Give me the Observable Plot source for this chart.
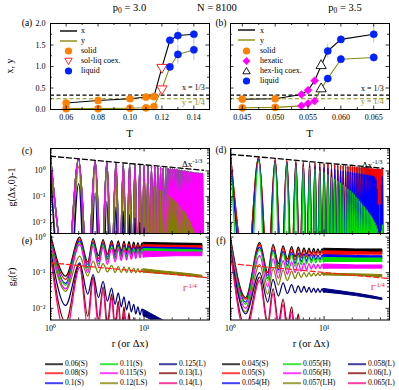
<!DOCTYPE html>
<html><head><meta charset="utf-8">
<script src="https://cdn.jsdelivr.net/npm/d3@7"></script>
<script src="https://cdn.jsdelivr.net/npm/@observablehq/plot@0.6"></script>
<style>
html,body{margin:0;padding:0;background:#fff}
#fig{position:relative;width:399px;height:390px;overflow:hidden;font-family:"Liberation Serif","Times New Roman",serif;color:#000}
#fig > svg{position:absolute;overflow:visible}
.t{position:absolute;white-space:nowrap;line-height:1}
.t sub{font-size:0.72em;vertical-align:-0.3em;line-height:0}
.t sup{font-size:0.7em;vertical-align:0.5em;line-height:0}
.lg{position:absolute;display:flex;align-items:center;white-space:nowrap;line-height:1;transform:translate(0,-50%)}
.lg svg{display:block;overflow:visible}
</style></head><body><div id="fig"></div>
<script>
// ================= DATA =================
// (a) p0 = 3.0 : order parameters x, y vs T
const Ta     = [0.06, 0.08, 0.10, 0.11, 0.115, 0.12, 0.125, 0.13, 0.14];
const xa     = [0.15, 0.21, 0.25, 0.29, 0.30, 0.98, 1.61, 1.72, 1.75];
const ya     = [0.02, 0.02, 0.03, 0.04, 0.07, 0.48, 0.99, 1.28, 1.39];
const xaErr  = [0, 0, 0, 0, 0, 0, 0.06, 0.17, 0.10];
const yaErr  = [0, 0, 0, 0, 0, 0, 0.08, 0.22, 0.25];
const phaseA = ["solid","solid","solid","solid","solid","coex","liquid","liquid","liquid"];
// (b) p0 = 3.5
const Tb     = [0.045, 0.050, 0.054, 0.055, 0.056, 0.057, 0.058, 0.060, 0.065];
const xb     = [0.24, 0.25, 0.35, 0.45, 0.67, 1.02, 1.36, 1.63, 1.75];
const yb     = [0.04, 0.05, 0.085, 0.14, 0.20, 0.48, 0.72, 1.17, 1.21];
const xbErr  = [0, 0, 0, 0, 0, 0, 0.16, 0.04, 0.20];
const ybErr  = [0, 0, 0, 0, 0, 0, 0.06, 0.10, 0.10];
const phaseB = ["solid","solid","hexatic","hexatic","hexatic","coex","liquid","liquid","liquid"];
const refX = [1/3], refY = [1/4];

// legends (bottom)
const tempsA = ["0.06(S)","0.08(S)","0.1(S)","0.11(S)","0.115(S)","0.12(LS)","0.125(L)","0.13(L)","0.14(L)"];
const tempsB = ["0.045(S)","0.05(S)","0.054(H)","0.055(H)","0.056(H)","0.057(LH)","0.058(L)","0.06(L)","0.065(L)"];

// (c),(d): peak heights of g(Δx,0)-1 at lattice rows Δx = 1,2,3,...
const cSolid = [3.6,2.9,2.5,2.25,2.1,1.95,1.85,1.75,1.68,1.62,1.56,1.5,1.46,1.42,1.38,1.34,1.31,1.28,1.25,1.22,1.19,1.16,1.13,1.1,1.08,1.05,1.03,1.0,0.98,0.96,0.94,0.92,0.9,0.88,0.87,0.85,0.84,0.83,0.82,0.81,0.8,0.8];
const c012   = [2.5,1.45,1.08,0.9,0.75,0.63,0.55,0.48,0.42,0.37,0.32,0.28,0.24,0.21,0.18,0.155,0.135,0.115,0.1,0.085,0.072,0.062,0.053,0.045,0.038,0.032,0.027,0.022,0.018,0.014,0.011,0.0085,0.0065,0.005,0.004,0.003,0.0025,0.002,0.002,0.0015,0.0015,0.001];
const c0125  = [0.8,0.32,0.14,0.065,0.04,0.027,0.02,0.015,0.01,0.0065,0.004,0.003];
const dSolid = [4.0,3.3,2.85,2.55,2.37,2.23,2.13,2.03,1.96,1.89,1.83,1.78,1.73,1.69,1.65,1.62,1.58,1.55,1.53,1.5,1.48,1.45,1.43,1.41,1.39,1.37,1.35,1.34,1.32,1.3,1.29,1.27,1.26,1.25,1.23,1.22,1.21,1.2,1.19,1.17,1.16,1.15];
const d054   = [3.5,2.75,2.35,2.1,1.9,1.72,1.6,1.5,1.42,1.35,1.28,1.22,1.17,1.12,1.08,1.04,1.0,0.97,0.94,0.91,0.88,0.86,0.84,0.82,0.8,0.78,0.76,0.74,0.72,0.7,0.69,0.67,0.66,0.64,0.58,0.45,0.2,0.05,0.006,0.05,0.3,0.6];
const d055   = [2.8,2.4,2.1,1.85,1.65,1.48,1.32,1.18,1.04,0.9,0.76,0.6,0.5,0.42,0.35,0.3,0.25,0.21,0.18,0.15,0.125,0.1,0.085,0.072,0.06,0.05,0.042,0.035,0.03,0.025,0.021,0.018,0.015,0.012,0.01,0.008,0.006,0.004,0.002,0.003,0.005,0.008];
// between rows g-1 <= 0, i.e. off the bottom of the log axis (depth sets how sharp the peaks look)
const gapSolid = 1e-4, gapMid = 1e-5, gapSharp = 1e-7;
const cDashR = [1, 43], cDashV = [3.7, 1.06];
const dDashR = [1, 43], dDashV = [4.4, 1.26];

// (e),(f): g6(r) peaks / troughs, then the dense tail as an envelope band
const g6PeakR   = [1.0, 2.05, 2.85, 3.65, 4.5, 5.3, 6.1, 6.9, 7.75, 8.6, 9.5];
const g6TroughR = [1.45, 2.5, 3.25, 4.05, 4.9, 5.7, 6.5, 7.3, 8.15, 9.05, 9.95];
const g6BandR   = [9.95, 15, 22, 32, 42];
const e006pk=[1.2,1.0,0.9,0.85,0.8,0.78,0.76,0.74,0.72,0.7,0.69],  e006tr=[0.08,0.2,0.3,0.33,0.38,0.4,0.42,0.44,0.46,0.47,0.48], e006hi=[0.69,0.67,0.66,0.65,0.64], e006lo=[0.48,0.49,0.5,0.5,0.5];
const e008pk=[1.0,0.88,0.8,0.75,0.7,0.67,0.65,0.63,0.62,0.6,0.59], e008tr=[0.065,0.17,0.25,0.28,0.32,0.34,0.36,0.38,0.39,0.4,0.41], e008hi=[0.59,0.58,0.57,0.56,0.55], e008lo=[0.41,0.42,0.42,0.42,0.42];
const e010pk=[0.88,0.78,0.7,0.66,0.62,0.59,0.57,0.55,0.54,0.52,0.51], e010tr=[0.05,0.14,0.21,0.24,0.27,0.29,0.31,0.32,0.33,0.34,0.35], e010hi=[0.51,0.5,0.49,0.48,0.47], e010lo=[0.35,0.36,0.37,0.37,0.37];
const e011pk=[0.8,0.7,0.64,0.6,0.56,0.53,0.51,0.5,0.48,0.47,0.46],  e011tr=[0.045,0.12,0.18,0.21,0.24,0.26,0.27,0.28,0.29,0.3,0.31], e011hi=[0.46,0.45,0.44,0.43,0.42], e011lo=[0.31,0.32,0.33,0.34,0.34];
const e0115pk=[0.7,0.62,0.55,0.51,0.48,0.46,0.44,0.42,0.41,0.4,0.39], e0115tr=[0.035,0.1,0.15,0.17,0.2,0.22,0.23,0.24,0.25,0.26,0.27], e0115hi=[0.39,0.38,0.37,0.37,0.37], e0115lo=[0.27,0.28,0.29,0.29,0.29];
const e012pk=[0.53,0.29,0.21,0.18,0.16,0.15,0.145,0.14,0.135,0.13,0.125], e012tr=[0.03,0.08,0.1,0.105,0.1,0.1,0.1,0.1,0.1,0.1,0.1], e012hi=[0.125,0.11,0.1,0.09,0.082], e012lo=[0.1,0.092,0.085,0.078,0.072];
const e0125pk=[0.43,0.19,0.088,0.057,0.037,0.027,0.021,0.016,0.013,0.011,0.0097], e0125tr=[0.012,0.025,0.02,0.016,0.013,0.011,0.009,0.008,0.007,0.0065,0.006], e0125hi=[0.009,0.005,0.003,0.002,0.0015], e0125lo=[0.006,0.0035,0.002,0.0015,0.001];
const e013pk=[0.36,0.17,0.075,0.04,0.025,0.016,0.011,0.0075,0.0055,0.004,0.003], e013tr=[0.004,0.006,0.005,0.004,0.003,0.0025,0.002,0.0015,0.001,0.001,0.001];
const e014pk=[0.31,0.14,0.065,0.033,0.02,0.012,0.008,0.0055,0.004,0.003,0.002], e014tr=[0.002,0.003,0.003,0.0025,0.002,0.0015,0.001,0.001,0.001,0.001,0.001];
const f045pk=[0.95,0.7,0.62,0.57,0.54,0.52,0.5,0.49,0.48,0.47,0.47], f045tr=[0.02,0.1,0.18,0.24,0.28,0.31,0.33,0.34,0.35,0.355,0.36], f045hi=[0.47,0.46,0.45,0.45,0.45], f045lo=[0.36,0.36,0.36,0.36,0.36];
const f050pk=[0.85,0.62,0.54,0.5,0.47,0.45,0.43,0.42,0.41,0.4,0.4], f050tr=[0.018,0.085,0.15,0.2,0.23,0.26,0.28,0.29,0.3,0.31,0.31], f050hi=[0.4,0.39,0.38,0.37,0.37], f050lo=[0.31,0.315,0.32,0.32,0.32];
const f054pk=[0.75,0.52,0.44,0.4,0.37,0.35,0.34,0.33,0.32,0.31,0.31], f054tr=[0.015,0.07,0.12,0.16,0.18,0.2,0.21,0.22,0.23,0.235,0.24], f054hi=[0.31,0.3,0.295,0.29,0.29], f054lo=[0.24,0.24,0.24,0.24,0.24];
const f055pk=[0.68,0.46,0.39,0.35,0.32,0.3,0.29,0.28,0.27,0.265,0.26], f055tr=[0.013,0.06,0.1,0.13,0.15,0.165,0.175,0.185,0.19,0.195,0.2], f055hi=[0.26,0.255,0.25,0.25,0.25], f055lo=[0.2,0.2,0.2,0.2,0.2];
const f056pk=[0.58,0.3,0.25,0.22,0.2,0.19,0.185,0.18,0.175,0.17,0.17], f056tr=[0.01,0.04,0.07,0.09,0.1,0.11,0.12,0.125,0.13,0.13,0.13], f056hi=[0.17,0.165,0.16,0.16,0.16], f056lo=[0.13,0.13,0.13,0.13,0.13];
const f057pk=[0.5,0.17,0.13,0.12,0.11,0.105,0.1,0.1,0.097,0.095,0.095], f057tr=[0.008,0.025,0.045,0.06,0.068,0.073,0.077,0.08,0.082,0.083,0.084], f057hi=[0.095,0.092,0.09,0.088,0.086], f057lo=[0.084,0.082,0.08,0.077,0.075];
const f058pk=[0.45,0.1,0.065,0.052,0.046,0.043,0.041,0.039,0.037,0.036,0.035], f058tr=[0.007,0.015,0.022,0.026,0.027,0.028,0.028,0.028,0.028,0.028,0.028], f058hi=[0.035,0.03,0.026,0.022,0.019], f058lo=[0.028,0.025,0.022,0.019,0.017];
const f060pk=[0.42,0.075,0.035,0.018,0.011,0.007,0.0045,0.003,0.002,0.0015,0.001], f060tr=[0.003,0.004,0.004,0.003,0.002,0.0015,0.001,0.001,0.001,0.001,0.001];
const f065pk=[0.4,0.06,0.026,0.013,0.008,0.005,0.0035,0.0025,0.0018,0.0012,0.001], f065tr=[0.002,0.003,0.003,0.002,0.0015,0.001,0.001,0.001,0.001,0.001,0.001];
const eDashR = [1, 48], eDashV = [0.19, 0.072];
const fDashR = [1, 48], fDashV = [0.18, 0.069];

// ================= STYLE / HELPERS =================
const fig = document.getElementById("fig");
const FONT = "Liberation Serif, Times New Roman, serif";
const OLIVE = "#8a8a14";
const palette = ["#000000","#ff0000","#0000ff","#00dd00","#ff00ff","#808000","#000080","#800000","#ff0080"];
const baseStyle = {background:"transparent", fontFamily:FONT, fontSize:"8px", overflow:"visible", color:"#000"};

function put(svg, left, top){ svg.style.position="absolute"; svg.style.left=left+"px"; svg.style.top=top+"px"; fig.appendChild(svg); }
function txt(html, x, y, o={}) {
  const d=document.createElement("div"); d.className="t"; d.innerHTML=html;
  d.style.fontSize=(o.size||10)+"px"; if(o.color) d.style.color=o.color;
  d.style.left=x+"px"; d.style.top=y+"px";
  const ax = o.anchor==="start" ? "0" : o.anchor==="end" ? "-100%" : "-50%";
  d.style.transform=`translate(${ax},-50%)`+(o.rotate?` rotate(${o.rotate}deg)`:"");
  fig.appendChild(d); return d;
}
const supMap = {"0":"⁰","1":"¹","2":"²","3":"³","-":"⁻"};
const fmtPow = v => "10" + String(Math.round(Math.log10(v))).replace(/./g, c => supMap[c]);

function tickRules(xMaj, xMin, yMaj, yMin, fw, fh) {
  const L=3.5, l=2, sw=0.8, m=[];
  for (const [arr, len] of [[xMaj,L],[xMin,l]]) {
    m.push(Plot.ruleX(arr, {x:d=>d, insetTop:fh-len, strokeWidth:sw}));
    m.push(Plot.ruleX(arr, {x:d=>d, insetBottom:fh-len, strokeWidth:sw}));
  }
  for (const [arr, len] of [[yMaj,L],[yMin,l]]) {
    m.push(Plot.ruleY(arr, {y:d=>d, insetRight:fw-len, strokeWidth:sw}));
    m.push(Plot.ruleY(arr, {y:d=>d, insetLeft:fw-len, strokeWidth:sw}));
  }
  return m;
}

const triDown = { draw(ctx, size) { const y = -Math.sqrt(size/(Math.sqrt(3)*3)); ctx.moveTo(0,-y*2); ctx.lineTo(-Math.sqrt(3)*y, y); ctx.lineTo(Math.sqrt(3)*y, y); ctx.closePath(); } };
const phaseStyle = {
  solid:   {symbol:"circle", r:3.6, fill:"#ff8000", stroke:"#ff8000", strokeWidth:0.5},
  liquid:  {symbol:"circle", r:3.6, fill:"#0022ff", stroke:"#0022ff", strokeWidth:0.5},
  hexatic: {symbol:"diamond2", r:3.6, fill:"#ff00ff", stroke:"#ff00ff", strokeWidth:0.5},
};
const coexA = {symbol:triDown, r:3.8, fill:"white", stroke:"#ff2020", strokeWidth:1};
const coexB = {symbol:"triangle", r:3.8, fill:"white", stroke:"#000", strokeWidth:0.9};

function orderPanel({T, x, y, ex, ey, phase, coex, left, width, mL, mR, xDomain, xMaj, xMin, xFmt, yLabels}) {
  const rows = T.map((t,i)=>({T:t, x:x[i], y:y[i], ex:ex[i], ey:ey[i], phase:phase[i]}));
  const fw = width-mL-mR, fh = 125-23-16;
  const styles = {...phaseStyle, coex};
  const marks = [
    Plot.ruleY(refX, {y:d=>d, stroke:"#000", strokeWidth:1.2, strokeDasharray:"4,2.5"}),
    Plot.ruleY(refY, {y:d=>d, stroke:OLIVE, strokeWidth:1.2, strokeDasharray:"4,2.5"}),
    Plot.ruleX(rows.filter(d=>d.ex>0), {x:"T", y1:d=>d.x-d.ex, y2:d=>d.x+d.ex, stroke:"#b4bdf5", strokeWidth:1}),
    Plot.ruleX(rows.filter(d=>d.ey>0), {x:"T", y1:d=>d.y-d.ey, y2:d=>d.y+d.ey, stroke:"#b4bdf5", strokeWidth:1}),
    Plot.line(rows, {x:"T", y:"x", stroke:"#000", strokeWidth:1.1}),
    Plot.line(rows, {x:"T", y:"y", stroke:OLIVE, strokeWidth:1.1}),
  ];
  for (const key of ["x","y"]) for (const ph of ["solid","hexatic","coex","liquid"]) {
    const sub = rows.filter(d=>d.phase===ph);
    if (sub.length) marks.push(Plot.dot(sub, {x:"T", y:key, ...styles[ph]}));
  }
  marks.push(Plot.frame({strokeWidth:1}));
  marks.push(...tickRules(xMaj, xMin, [0,0.5,1,1.5,2], [0.25,0.75,1.25,1.75], fw, fh));
  marks.push(Plot.axisX({ticks:xMaj, tickFormat:xFmt, tickSize:0, tickPadding:5, label:null}));
  if (yLabels) marks.push(Plot.axisY({ticks:[0,0.5,1,1.5,2], tickFormat:d3.format(".1f"), tickSize:0, tickPadding:5, label:null}));
  const svg = Plot.plot({width, height:125, marginLeft:mL, marginRight:mR, marginTop:23, marginBottom:16,
    x:{domain:xDomain, axis:null}, y:{domain:[0,2], axis:null}, style:baseStyle, marks});
  put(svg, left, 0);
}

function zigRows(peakR, pk, troughR, tr) {
  const rows = [];
  pk.forEach((v,i)=>{ rows.push({r:peakR[i], v}); rows.push({r:troughR[i], v: Array.isArray(tr) ? tr[i] : tr}); });
  return rows;
}
function bandRows(hi, lo) { return hi ? g6BandR.map((r,i)=>({r, hi:hi[i], lo:lo[i]})) : null; }

function logPanel({left, top, width, height, mL, mR, mT, mB, yDomain, series, dashR, dashV, dashColor, yLabels, xLabels, yMaj, yMin, sw}) {
  const fw = width-mL-mR, fh = height-mT-mB;
  const marks = [];
  for (const s of series) {
    marks.push(Plot.line(s.zig, {x:"r", y:"v", stroke:s.color, strokeWidth:sw, curve:"monotone-x", clip:true}));
    if (s.band) marks.push(Plot.areaY(s.band, {x:"r", y1:"lo", y2:"hi", fill:s.color, stroke:s.color, strokeWidth:1, clip:true}));
  }
  marks.push(Plot.line(dashR.map((r,i)=>({r, v:dashV[i]})), {x:"r", y:"v", stroke:dashColor, strokeWidth:1.3, strokeDasharray:"5,3", clip:true}));
  marks.push(Plot.frame({strokeWidth:1}));
  marks.push(...tickRules([10], [2,3,4,5,6,7,8,9,20,30,40], yMaj, yMin, fw, fh));
  if (yLabels) marks.push(Plot.axisY({ticks:yMaj, tickFormat:fmtPow, tickSize:0, tickPadding:5, label:null}));
  if (xLabels) marks.push(Plot.axisX({ticks:[1,10], tickFormat:fmtPow, tickSize:0, tickPadding:5, label:null}));
  const svg = Plot.plot({width, height, marginLeft:mL, marginRight:mR, marginTop:mT, marginBottom:mB,
    x:{type:"log", domain:[1,50], axis:null}, y:{type:"log", domain:yDomain, axis:null}, style:baseStyle, marks});
  put(svg, left, top);
}

// ================= PANELS =================
orderPanel({T:Ta, x:xa, y:ya, ex:xaErr, ey:yaErr, phase:phaseA, coex:coexA, left:0, width:215, mL:50, mR:6,
  xDomain:[0.0502,0.1498], xMaj:[0.06,0.08,0.10,0.12,0.14], xMin:[0.07,0.09,0.11,0.13], xFmt:d3.format(".2f"), yLabels:true});
orderPanel({T:Tb, x:xb, y:yb, ex:xbErr, ey:ybErr, phase:phaseB, coex:coexB, left:215, width:184, mL:15, mR:10,
  xDomain:[0.0432,0.0674], xMaj:[0.045,0.050,0.055,0.060,0.065], xMin:[0.0475,0.0525,0.0575,0.0625], xFmt:d3.format(".3f"), yLabels:false});

const rowsDx = cSolid.map((_,i)=>i+1), midDx = cSolid.map((_,i)=>i+1.5);
const cyMaj=[0.01,0.1,1], cyMin=[0.004,0.005,0.006,0.007,0.008,0.009,0.02,0.03,0.04,0.05,0.06,0.07,0.08,0.09,0.2,0.3,0.4,0.5,0.6,0.7,0.8,0.9,2,3,4,5,6,7];
const eyMin=[0.005,0.006,0.007,0.008,0.009,0.02,0.03,0.04,0.05,0.06,0.07,0.08,0.09,0.2,0.3,0.4,0.5,0.6,0.7,0.8,0.9];

logPanel({left:0, top:140, width:215, height:95, mL:50, mR:6, mT:8, mB:2, yDomain:[0.0037,7.4], yLabels:true, xLabels:false,
  yMaj:cyMaj, yMin:cyMin, dashR:cDashR, dashV:cDashV, dashColor:"#000", sw:1.35,
  series:[
    {color:palette[0], zig:zigRows(rowsDx, cSolid, midDx, gapSolid)},
    {color:palette[1], zig:zigRows(rowsDx, cSolid, midDx, gapSolid)},
    {color:palette[2], zig:zigRows(rowsDx, cSolid, midDx, gapSolid)},
    {color:palette[3], zig:zigRows(rowsDx, cSolid, midDx, gapSolid)},
    {color:palette[4], zig:zigRows(rowsDx, cSolid, midDx, gapSolid)},
    {color:palette[5], zig:zigRows(rowsDx, c012, midDx, gapSharp)},
    {color:palette[6], zig:zigRows(rowsDx, c0125, midDx, gapSharp)},
  ]});
logPanel({left:215, top:140, width:184, height:95, mL:15, mR:10, mT:8, mB:2, yDomain:[0.0037,7.4], yLabels:false, xLabels:false,
  yMaj:cyMaj, yMin:cyMin, dashR:dDashR, dashV:dDashV, dashColor:"#000", sw:1.35,
  series:[
    {color:palette[0], zig:zigRows(rowsDx, dSolid, midDx, gapSolid)},
    {color:palette[1], zig:zigRows(rowsDx, dSolid, midDx, gapSolid)},
    {color:palette[2], zig:zigRows(rowsDx, d054, midDx, gapMid)},
    {color:palette[3], zig:zigRows(rowsDx, d055, midDx, gapSharp)},
  ]});
const eSets = [[e006pk,e006tr,e006hi,e006lo],[e008pk,e008tr,e008hi,e008lo],[e010pk,e010tr,e010hi,e010lo],[e011pk,e011tr,e011hi,e011lo],
  [e0115pk,e0115tr,e0115hi,e0115lo],[e012pk,e012tr,e012hi,e012lo],[e0125pk,e0125tr,e0125hi,e0125lo],[e013pk,e013tr],[e014pk,e014tr]];
const fSets = [[f045pk,f045tr,f045hi,f045lo],[f050pk,f050tr,f050hi,f050lo],[f054pk,f054tr,f054hi,f054lo],[f055pk,f055tr,f055hi,f055lo],
  [f056pk,f056tr,f056hi,f056lo],[f057pk,f057tr,f057hi,f057lo],[f058pk,f058tr,f058hi,f058lo],[f060pk,f060tr],[f065pk,f065tr]];
const g6Series = sets => sets.map(([pk,tr,hi,lo],i)=>({color:palette[i], zig:zigRows(g6PeakR, pk, g6TroughR, tr), band:bandRows(hi,lo)}));

logPanel({left:0, top:228, width:215, height:105, mL:50, mR:6, mT:5, mB:13.5, yDomain:[0.0047,1.26], yLabels:true, xLabels:true,
  yMaj:cyMaj, yMin:eyMin, dashR:eDashR, dashV:eDashV, dashColor:"#ff2020", sw:1.25, series:g6Series(eSets)});
logPanel({left:215, top:228, width:184, height:105, mL:15, mR:10, mT:5, mB:13.5, yDomain:[0.0047,1.26], yLabels:false, xLabels:true,
  yMaj:cyMaj, yMin:eyMin, dashR:fDashR, dashV:fDashV, dashColor:"#ff2020", sw:1.25, series:g6Series(fSets)});

// ================= TEXT =================
txt("p<sub>0</sub> = 3.0", 129.5, 8, {size:10.5});
txt("N = 8100", 217, 8, {size:10.5});
txt("p<sub>0</sub> = 3.5", 345, 8, {size:10.5});
txt("(a)", 27, 24, {size:9.5}); txt("(b)", 221, 24, {size:9.5});
txt("(c)", 27, 152, {size:9.5}); txt("(d)", 221, 151, {size:9.5});
txt("(e)", 27, 242, {size:9.5}); txt("(f)", 221, 242, {size:9.5});
txt("x, y", 10, 66, {size:10, rotate:-90});
txt("T", 129.5, 133, {size:11}); txt("T", 309.5, 133, {size:11});
txt("g(Δx,0)-1", 12, 187, {size:10, rotate:-90});
txt("g<sub>6</sub>(r)", 12, 277, {size:10, rotate:-90});
txt("r (or Δx)", 130, 344, {size:10.5}); txt("r (or Δx)", 311, 344, {size:10.5});
txt("x = 1/3", 182, 88, {size:8, anchor:"start"}); txt("y = 1/4", 182, 103, {size:8, anchor:"start", color:OLIVE});
txt("x = 1/3", 361, 89, {size:8, anchor:"start"}); txt("y = 1/4", 361, 102, {size:8, anchor:"start", color:OLIVE});
txt("Δx<sup>-1/3</sup>", 182, 164, {size:9, anchor:"start"}); txt("Δx<sup>-1/3</sup>", 362, 165, {size:9, anchor:"start"});
txt("r<sup>-1/4</sup>", 183, 289, {size:9.5, anchor:"start", color:"#ff2020"}); txt("r<sup>-1/4</sup>", 371, 288, {size:9.5, anchor:"start", color:"#ff2020"});

// ================= LEGENDS =================
function swatch(kind, color) {
  const s = {
    line: `<line x1="0" y1="4.5" x2="17" y2="4.5" stroke="${color}" stroke-width="1.4"/>`,
    circle: `<circle cx="8.5" cy="4.5" r="3.6" fill="${color}"/>`,
    diamond: `<path d="M8.5,0.6L12.4,4.5L8.5,8.4L4.6,4.5Z" fill="${color}"/>`,
    triDown: `<path d="M4.8,1.7L12.2,1.7L8.5,8.1Z" fill="white" stroke="${color}" stroke-width="1"/>`,
    triUp: `<path d="M8.5,0.9L12.2,7.3L4.8,7.3Z" fill="white" stroke="${color}" stroke-width="0.9"/>`,
  }[kind];
  return `<svg width="17" height="9">${s}</svg>`;
}
function legendRow(x, y, kind, color, label, size, gap) {
  const d = document.createElement("div"); d.className="lg";
  d.style.left=x+"px"; d.style.top=y+"px"; d.style.fontSize=size+"px"; d.style.gap=gap+"px";
  d.innerHTML = swatch(kind, color) + `<span>${label}</span>`;
  fig.appendChild(d);
}
const legA = [["line","#000","x"],["line",OLIVE,"y"],["circle","#ff8000","solid"],["triDown","#ff2020","sol-liq coex."],["circle","#0022ff","liquid"]];
const legB = [["line","#000","x"],["line",OLIVE,"y"],["circle","#ff8000","solid"],["diamond","#ff00ff","hexatic"],["triUp","#000","hex-liq coex."],["circle","#0022ff","liquid"]];
const legAy = [30.7,40.7,50.7,60.7,70.7], legBy = [30.3,40.3,50.6,60.6,70.6,80.6];
legA.forEach(([k,c,l],i)=>legendRow(60, legAy[i], k, c, l, 8, 4));
legB.forEach(([k,c,l],i)=>legendRow(238, legBy[i], k, c, l, 8, 5));

const colX = [45,100,159,222,283,348], rowY = [364.3,373.4,383];
function bottomLegend(labels, colOffset) {
  labels.forEach((lab,i)=>{
    const d = document.createElement("div"); d.className="lg";
    d.style.left=colX[colOffset+Math.floor(i/3)]+"px"; d.style.top=rowY[i%3]+"px"; d.style.fontSize="7.6px"; d.style.gap="2px";
    d.innerHTML = `<span style="display:inline-block;width:18px;height:1.8px;background:${palette[i]};opacity:0.75"></span><span>${lab}</span>`;
    fig.appendChild(d);
  });
}
bottomLegend(tempsA, 0); bottomLegend(tempsB, 3);
</script></body></html>
